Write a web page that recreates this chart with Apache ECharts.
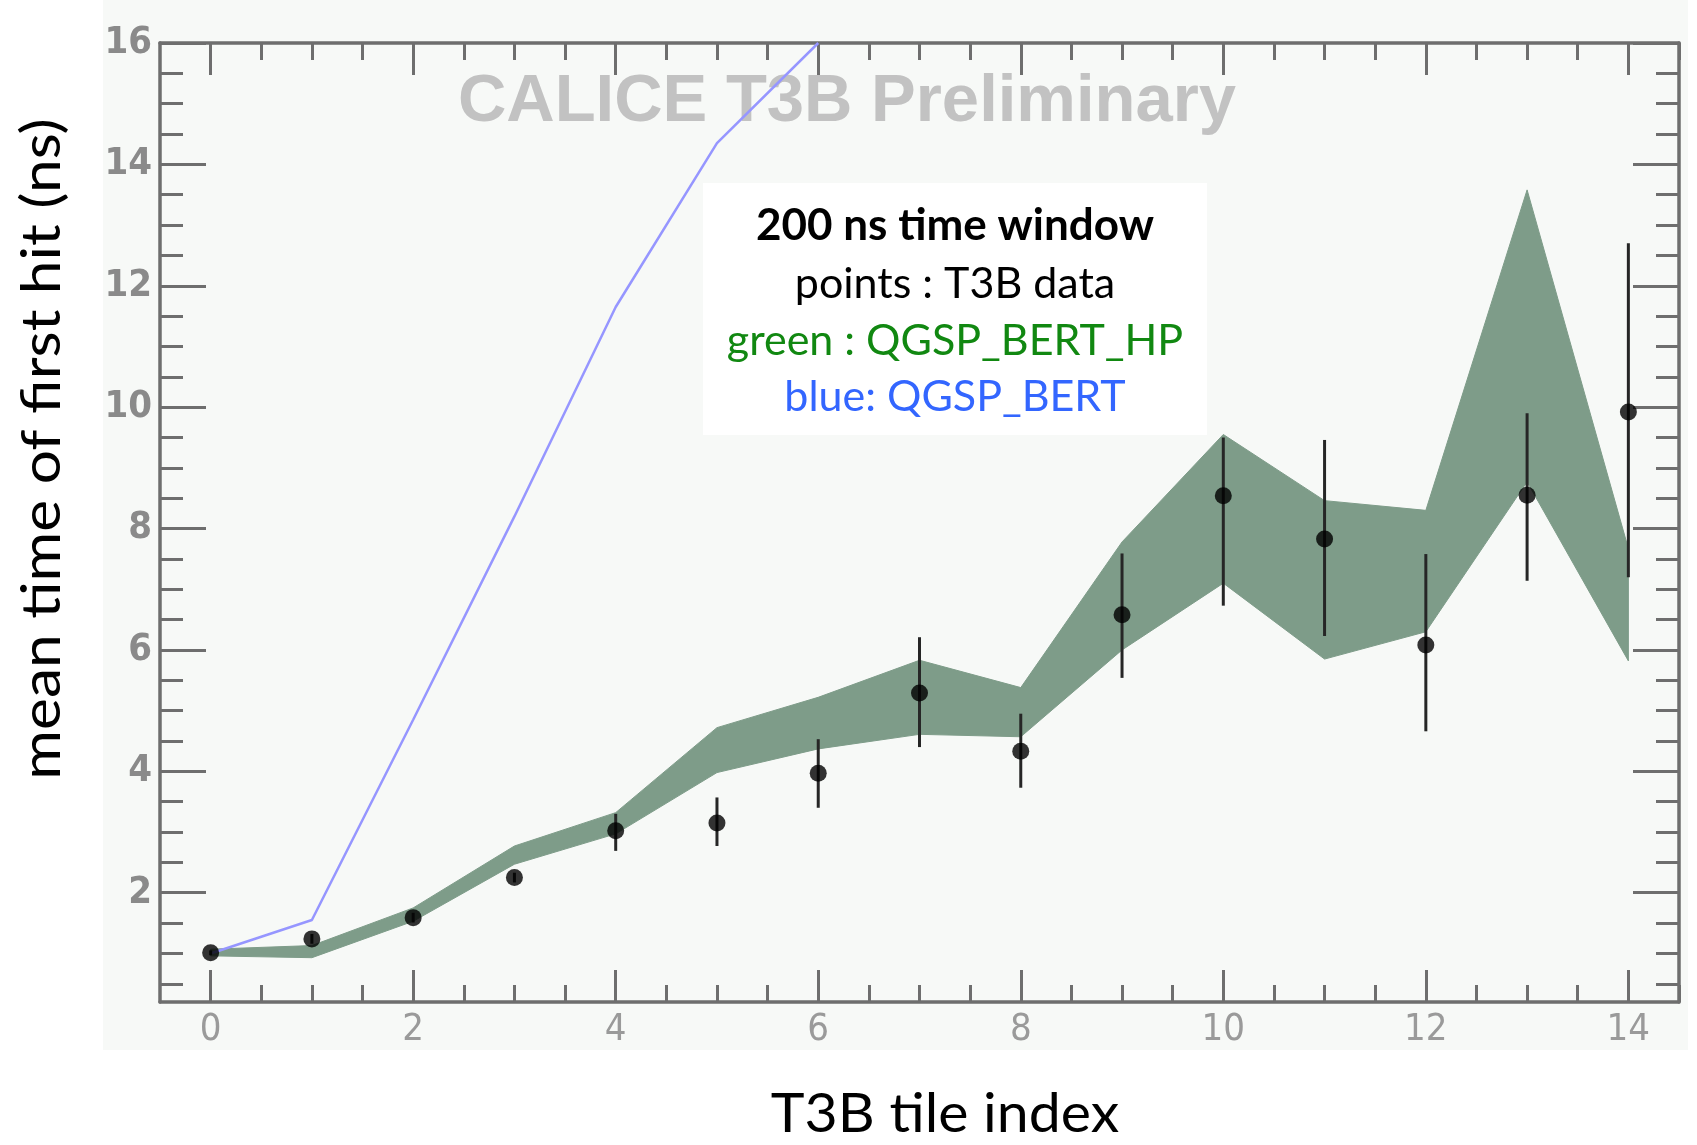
<!DOCTYPE html>
<html>
<head>
<meta charset="utf-8">
<script src="https://cdn.jsdelivr.net/npm/echarts@6/dist/echarts.min.js"></script>
<style>
html,body{margin:0;padding:0;background:#ffffff;}
#chart{width:1697px;height:1145px;}
</style>
</head>
<body>
<div id="chart"></div>
<script>
// ---- data ----
var tileIndex = [0,1,2,3,4,5,6,7,8,9,10,11,12,13,14];
var dataMean  = [1.01,1.24,1.59,2.25,3.02,3.15,3.97,5.29,4.33,6.58,8.54,7.83,6.08,8.55,9.92];
var dataLow   = [0.97,1.16,1.51,2.17,2.69,2.77,3.40,4.40,3.73,5.54,6.73,6.23,4.66,7.14,7.20];
var dataHigh  = [1.05,1.32,1.67,2.33,3.30,3.57,4.53,6.21,4.95,7.59,9.50,9.46,7.58,9.90,12.70];
var hpLow     = [0.96,0.93,1.53,2.47,2.97,3.98,4.37,4.61,4.57,6.00,7.10,5.85,6.30,8.77,5.82];
var hpHigh    = [1.07,1.13,1.75,2.77,3.32,4.72,5.22,5.83,5.38,7.78,9.55,8.46,8.30,13.58,7.67];
var bertX     = [0,1,2,3,4,5,6];
var bertY     = [1.00,1.55,4.85,8.20,11.65,14.35,16.00];
var xMajorTicks = [0,2,4,6,8,10,12,14];
var xMinorTicks = [0.5,1,1.5,2.5,3,3.5,4.5,5,5.5,6.5,7,7.5,8.5,9,9.5,10.5,11,11.5,12.5,13,13.5,14.5];
var yMajorTicks = [2,4,6,8,10,12,14,16];
var yMinorTicks = [0.5,1,1.5,2.5,3,3.5,4.5,5,5.5,6.5,7,7.5,8.5,9,9.5,10.5,11,11.5,12.5,13,13.5,14.5,15,15.5];
var xRange = [-0.5, 14.5];
var yRange = [0.2, 16];

var axisColor = '#6e6e6e';
var tickFont = "'Liberation Sans Narrow','DejaVu Sans Condensed','Liberation Sans',sans-serif";

function mkAxis(kind, pos, ticks, len, showLine, labels) {
  var a = {
    type: 'value',
    position: pos,
    min: kind === 'x' ? xRange[0] : yRange[0],
    max: kind === 'x' ? xRange[1] : yRange[1],
    splitLine: {show: false},
    axisLine: {show: showLine, onZero: false, lineStyle: {color: axisColor, width: 3.5}},
    axisTick: {show: true, inside: true, length: len, customValues: ticks,
               lineStyle: {color: axisColor, width: 3}},
    axisLabel: labels ? {show: true, customValues: ticks,
               color: kind === 'x' ? '#9a9a9a' : '#8a8a8a',
               fontWeight: kind === 'x' ? 'normal' : 'bold',
               fontFamily: tickFont, fontSize: 38, margin: kind === 'x' ? 9 : 8}
               : {show: false}
  };
  return a;
}

var chart = echarts.init(document.getElementById('chart'));
var option = {
  animation: false,
  backgroundColor: '#ffffff',
  grid: {left: 160, right: 18, top: 43, bottom: 143, containLabel: false},
  xAxis: [
    mkAxis('x', 'bottom', xMajorTicks, 32, true, true),
    mkAxis('x', 'bottom', xMinorTicks, 17, false, false),
    mkAxis('x', 'top', xMajorTicks, 32, true, false),
    mkAxis('x', 'top', xMinorTicks, 17, false, false)
  ],
  yAxis: [
    mkAxis('y', 'left', yMajorTicks, 46, true, true),
    mkAxis('y', 'left', yMinorTicks, 23, false, false),
    mkAxis('y', 'right', yMajorTicks, 46, true, false),
    mkAxis('y', 'right', yMinorTicks, 23, false, false)
  ],
  graphic: [
    {type: 'rect', z: -10, shape: {x: 103, y: 0, width: 1585, height: 1050},
     style: {fill: '#f7f9f7'}},
    {type: 'text', z: 1, x: 847, y: 103,
     style: {text: 'CALICE T3B Preliminary', align: 'center', verticalAlign: 'middle',
             fill: '#c2c2c2', font: "bold 67px 'Liberation Sans', Arial, sans-serif"}},
    {type: 'rect', z: 50, shape: {x: 703, y: 183, width: 504, height: 252},
     style: {fill: '#ffffff'}},
    {type: 'text', z: 51, x: 955, y: 226,
     style: {text: '200 ns time window', align: 'center', verticalAlign: 'middle',
             fill: '#000000', font: "bold 44px Lato, 'Open Sans', sans-serif"}},
    {type: 'text', z: 51, x: 955, y: 284,
     style: {text: 'points : T3B data', align: 'center', verticalAlign: 'middle',
             fill: '#000000', font: "43px Lato, 'Open Sans', sans-serif"}},
    {type: 'text', z: 51, x: 955, y: 341,
     style: {text: 'green : QGSP_BERT_HP', align: 'center', verticalAlign: 'middle',
             fill: '#118811', font: "43px Lato, 'Open Sans', sans-serif"}},
    {type: 'text', z: 51, x: 955, y: 397,
     style: {text: 'blue: QGSP_BERT', align: 'center', verticalAlign: 'middle',
             fill: '#3366ff', font: "43px Lato, 'Open Sans', sans-serif"}},
    {type: 'text', z: 51, x: 43, y: 449, rotation: Math.PI / 2, scaleX: 1.12,
     style: {text: 'mean time of first hit (ns)', align: 'center', verticalAlign: 'middle',
             fill: '#000000', font: "54px Lato, 'Open Sans', sans-serif"}},
    {type: 'text', z: 51, x: 945, y: 1115, scaleX: 1.06,
     style: {text: 'T3B tile index', align: 'center', verticalAlign: 'middle',
             fill: '#000000', font: "54px Lato, 'Open Sans', sans-serif"}}
  ],
  series: [
    {
      name: 'QGSP_BERT_HP band',
      type: 'custom',
      xAxisIndex: 0, yAxisIndex: 0,
      z: 2,
      data: [[0]],
      renderItem: function (params, api) {
        var pts = [];
        for (var i = 0; i < tileIndex.length; i++) pts.push(api.coord([tileIndex[i], hpHigh[i]]));
        for (var j = tileIndex.length - 1; j >= 0; j--) pts.push(api.coord([tileIndex[j], hpLow[j]]));
        return {type: 'polygon', shape: {points: pts},
                style: {fill: '#7e9c89', stroke: '#7e9c89', lineWidth: 1}};
      }
    },
    {
      name: 'QGSP_BERT',
      type: 'line',
      xAxisIndex: 0, yAxisIndex: 0,
      z: 3,
      data: bertX.map(function (x, i) { return [x, bertY[i]]; }),
      showSymbol: false, symbol: 'none',
      lineStyle: {color: '#9696ff', width: 2.5},
      clip: true
    },
    {
      name: 'errors',
      type: 'custom',
      xAxisIndex: 0, yAxisIndex: 0,
      z: 4,
      data: tileIndex.map(function (x, i) { return [x, dataLow[i], dataHigh[i]]; }),
      encode: {x: 0, y: [1, 2]},
      renderItem: function (params, api) {
        var lo = api.coord([api.value(0), api.value(1)]);
        var hi = api.coord([api.value(0), api.value(2)]);
        return {type: 'line', shape: {x1: lo[0], y1: lo[1], x2: hi[0], y2: hi[1]},
                style: {stroke: '#262626', lineWidth: 3}};
      }
    },
    {
      name: 'T3B data',
      type: 'scatter',
      xAxisIndex: 0, yAxisIndex: 0,
      z: 5,
      data: tileIndex.map(function (x, i) { return [x, dataMean[i]]; }),
      symbol: 'circle', symbolSize: 17,
      itemStyle: {color: '#000000'}
    }
  ]
};
chart.setOption(option);
</script>
</body>
</html>
